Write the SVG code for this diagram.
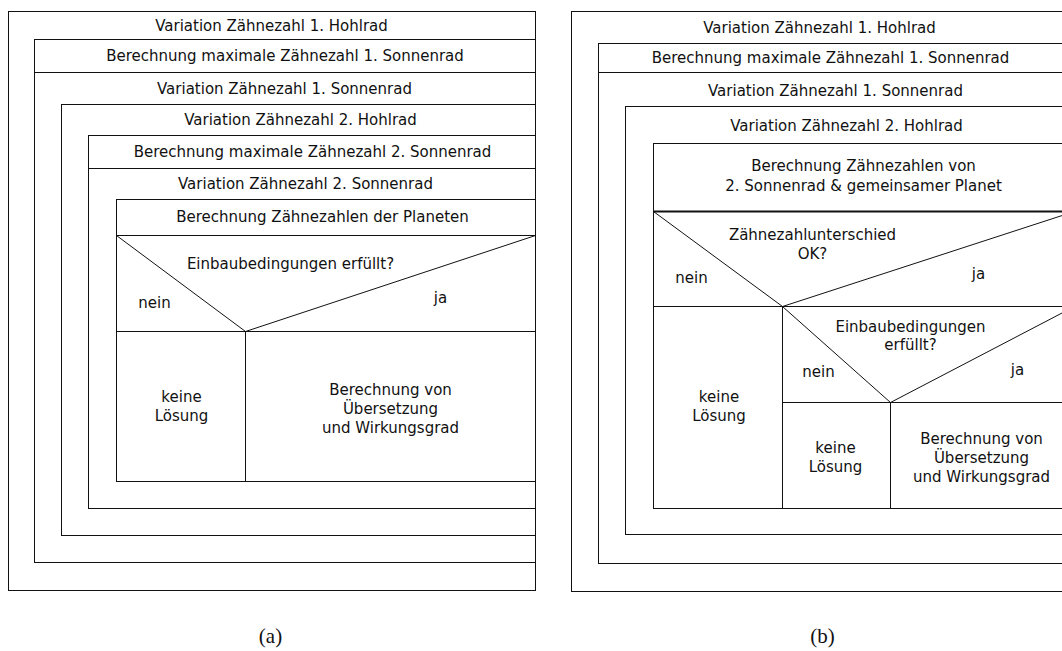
<svg xmlns="http://www.w3.org/2000/svg" width="1062" height="651" viewBox="0 0 1062 651">
<style>
.b{fill:none;stroke:#111;stroke-width:1}
.l{stroke:#111;stroke-width:1;fill:none}
.t{font-family:"DejaVu Sans","Liberation Sans",sans-serif;font-size:15px;fill:#111;text-anchor:middle}
.cap{font-family:"Liberation Serif","DejaVu Serif",serif;font-size:21px;fill:#111;text-anchor:middle}
</style>
<rect x="0" y="0" width="1062" height="651" fill="#fff"/>
<g transform="translate(0.5,0.5)">
<!-- (a) -->
<g id="a-loop1">
<rect class="b" x="8" y="11" width="527" height="579"/>
<text class="t" x="271" y="30">Variation Zähnezahl 1. Hohlrad</text>
</g>
<g id="a-calc1">
<rect class="b" x="34" y="39" width="501" height="523"/>
<line class="l" x1="34" y1="72" x2="535" y2="72"/>
<text class="t" x="284.5" y="60">Berechnung maximale Zähnezahl 1. Sonnenrad</text>
<text class="t" x="284" y="93">Variation Zähnezahl 1. Sonnenrad</text>
</g>
<g id="a-loop3">
<rect class="b" x="61" y="104" width="474" height="431"/>
<text class="t" x="300" y="124.5">Variation Zähnezahl 2. Hohlrad</text>
</g>
<g id="a-calc2">
<rect class="b" x="88" y="135" width="447" height="373"/>
<line class="l" x1="88" y1="168" x2="535" y2="168"/>
<text class="t" x="312" y="156.5">Berechnung maximale Zähnezahl 2. Sonnenrad</text>
<text class="t" x="305" y="188.5">Variation Zähnezahl 2. Sonnenrad</text>
</g>
<g id="a-planets">
<rect class="b" x="116" y="199" width="419" height="282"/>
<text class="t" x="322" y="221.5">Berechnung Zähnezahlen der Planeten</text>
</g>
<g id="a-decision">
<line class="l" x1="116" y1="235" x2="535" y2="235"/>
<line class="l" x1="116" y1="331" x2="535" y2="331"/>
<line class="l" x1="116" y1="235" x2="245" y2="331"/>
<line class="l" x1="535" y1="235" x2="245" y2="331"/>
<text class="t" x="290" y="268.5">Einbaubedingungen erfüllt?</text>
<text class="t" x="154" y="307">nein</text>
<text class="t" x="440" y="302">ja</text>
</g>
<g id="a-no">
<line class="l" x1="245" y1="331" x2="245" y2="481"/>
<text class="t" x="181" y="401">keine</text>
<text class="t" x="181" y="420">Lösung</text>
</g>
<g id="a-yes">
<text class="t" x="390" y="394">Berechnung von</text>
<text class="t" x="390" y="413">Übersetzung</text>
<text class="t" x="390" y="432">und Wirkungsgrad</text>
</g>
<text class="cap" x="270" y="642">(a)</text>

<!-- (b) -->
<g id="b-loop1">
<rect class="b" x="571" y="11" width="503" height="580"/>
<text class="t" x="819" y="32">Variation Zähnezahl 1. Hohlrad</text>
</g>
<g id="b-calc1">
<rect class="b" x="598" y="43" width="476" height="520"/>
<line class="l" x1="598" y1="72" x2="1074" y2="72"/>
<text class="t" x="830" y="62.5">Berechnung maximale Zähnezahl 1. Sonnenrad</text>
<text class="t" x="835" y="95.5">Variation Zähnezahl 1. Sonnenrad</text>
</g>
<g id="b-loop3">
<rect class="b" x="625" y="106" width="449" height="428"/>
<text class="t" x="846" y="130">Variation Zähnezahl 2. Hohlrad</text>
</g>
<g id="b-calc2">
<rect class="b" x="653" y="143" width="421" height="365"/>
<text class="t" x="863" y="170.5">Berechnung Zähnezahlen von</text>
<text class="t" x="863" y="190">2. Sonnenrad &amp; gemeinsamer Planet</text>
</g>
<g id="b-decision1">
<line class="l" x1="653" y1="211" x2="1074" y2="211" style="stroke-width:2"/>
<line class="l" x1="653" y1="306" x2="1074" y2="306"/>
<line class="l" x1="653" y1="211" x2="782" y2="306"/>
<line class="l" x1="1074" y1="211" x2="782" y2="306"/>
<text class="t" x="812" y="239.5">Zähnezahlunterschied</text>
<text class="t" x="812" y="258.5">OK?</text>
<text class="t" x="691" y="282">nein</text>
<text class="t" x="978" y="278">ja</text>
</g>
<g id="b-no1">
<line class="l" x1="782" y1="306" x2="782" y2="508"/>
<text class="t" x="718.5" y="401.5">keine</text>
<text class="t" x="718.5" y="420">Lösung</text>
</g>
<g id="b-decision2">
<line class="l" x1="782" y1="306" x2="890" y2="402"/>
<line class="l" x1="1074" y1="306" x2="890" y2="402"/>
<line class="l" x1="782" y1="402" x2="1074" y2="402"/>
<text class="t" x="910" y="331">Einbaubedingungen</text>
<text class="t" x="910" y="349.5">erfüllt?</text>
<text class="t" x="818" y="376">nein</text>
<text class="t" x="1017" y="374.5">ja</text>
</g>
<g id="b-no2">
<line class="l" x1="890" y1="402" x2="890" y2="508"/>
<text class="t" x="835" y="452.5">keine</text>
<text class="t" x="835" y="471">Lösung</text>
</g>
<g id="b-yes">
<text class="t" x="981" y="443">Berechnung von</text>
<text class="t" x="981" y="462">Übersetzung</text>
<text class="t" x="981" y="481">und Wirkungsgrad</text>
</g>
<text class="cap" x="822" y="642">(b)</text>
</g>
</svg>
